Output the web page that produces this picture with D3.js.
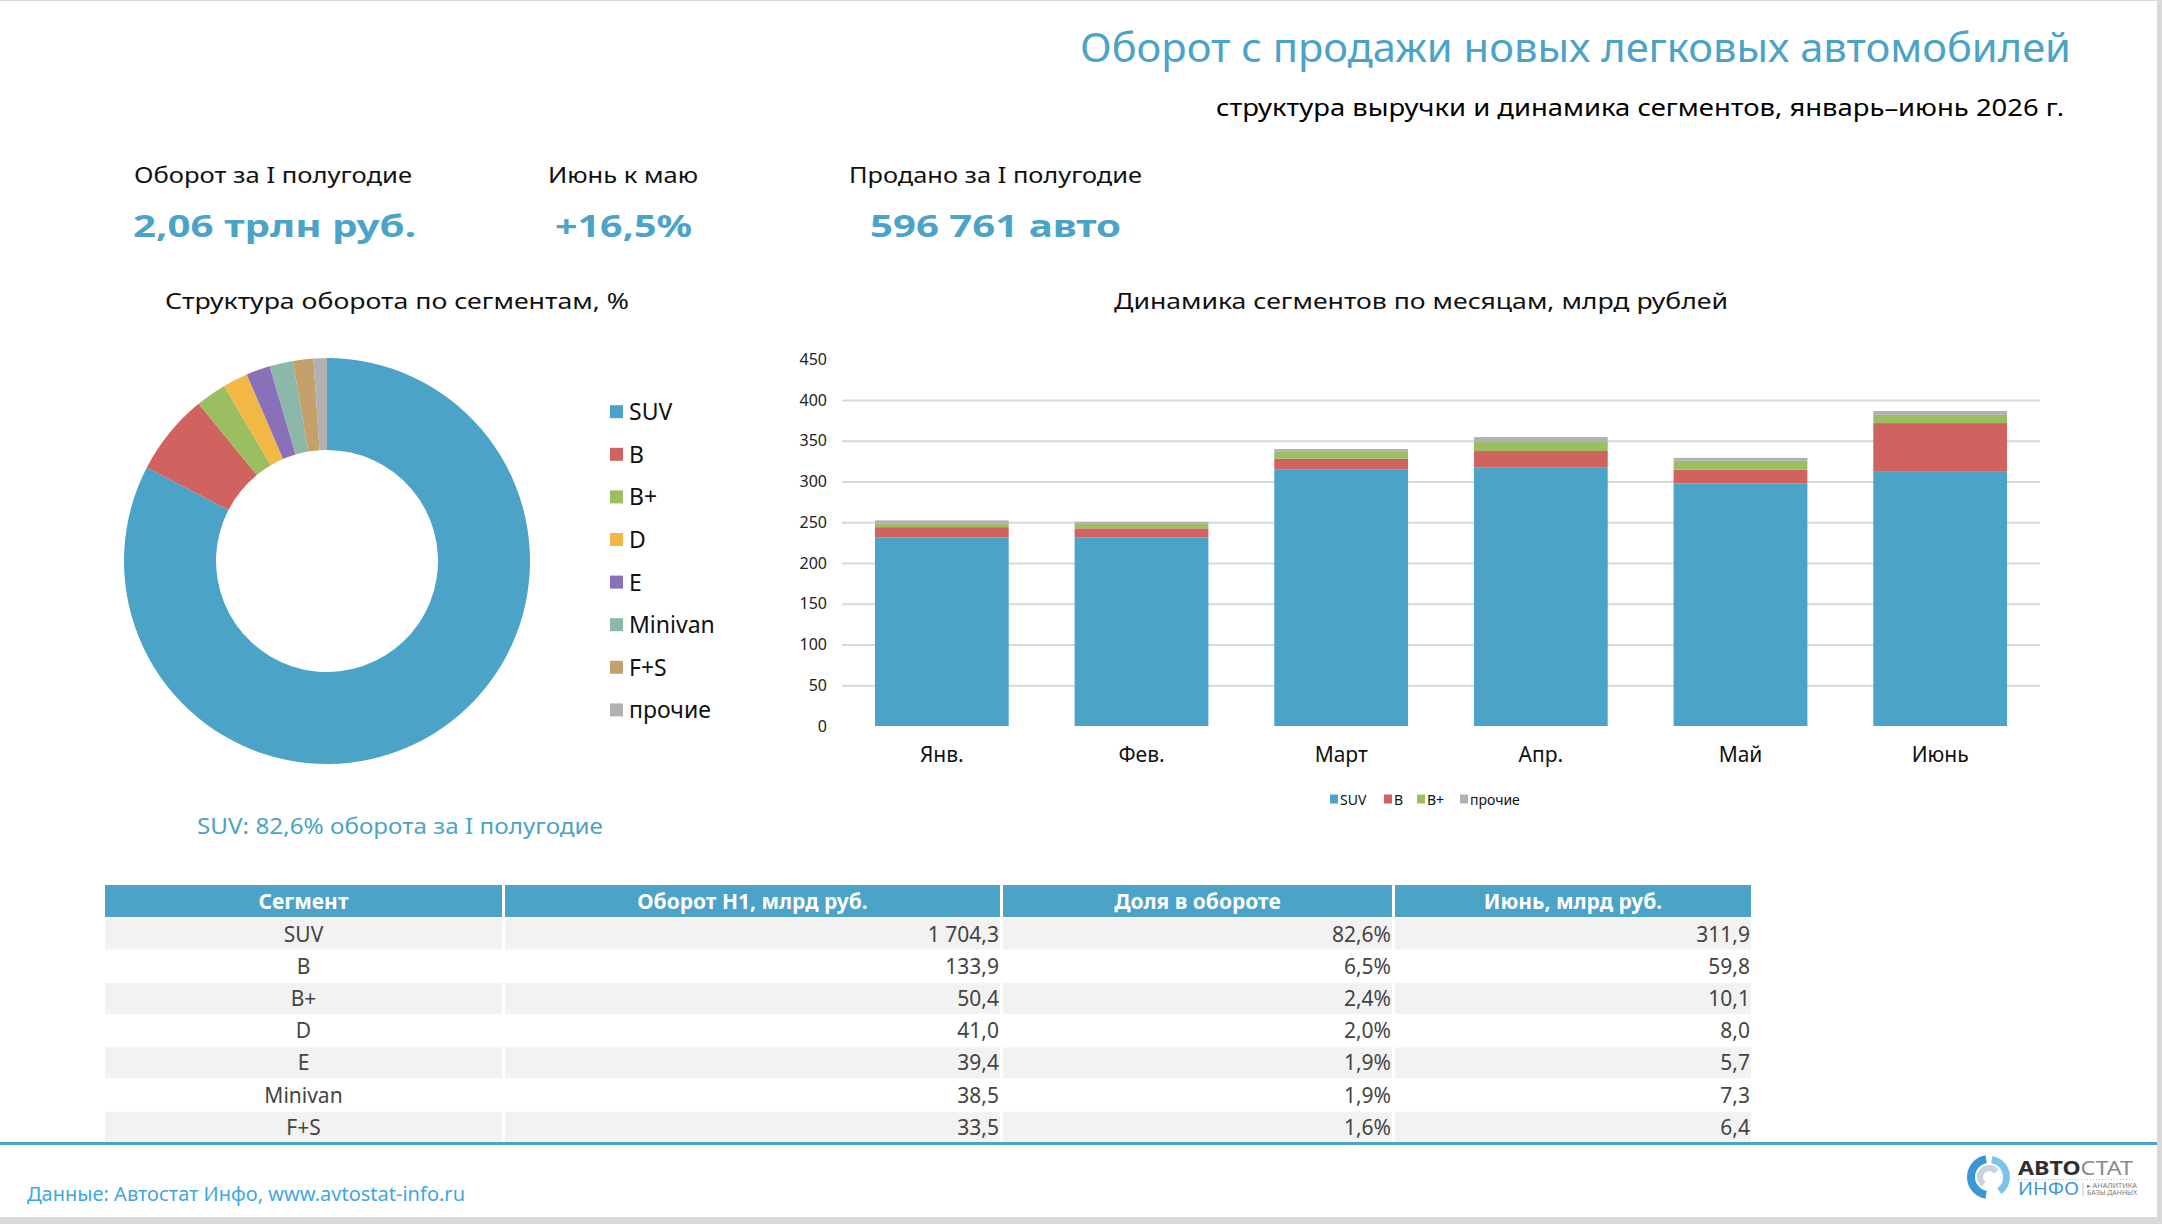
<!DOCTYPE html>
<html lang="ru">
<head>
<meta charset="utf-8">
<title>Оборот с продажи новых легковых автомобилей</title>
<script src="https://cdn.jsdelivr.net/npm/d3@7"></script>
<style>
  body { margin: 0; background: #d9d9d9; }
  svg { display: block; font-family: 'Noto Sans', 'DejaVu Sans', sans-serif; }
</style>
</head>
<body>
<svg width="2162" height="1224"></svg>
<script>
// ---- data ----
const segments = ['SUV', 'B', 'B+', 'D', 'E', 'Minivan', 'F+S', 'прочие'];
const h1Turnover = [1704.3, 133.9, 50.4, 41.0, 39.4, 38.5, 33.5, 22.0]; // прочие estimated
const h1Share = ['82,6%', '6,5%', '2,4%', '2,0%', '1,9%', '1,9%', '1,6%'];
const juneTurnover = [311.9, 59.8, 10.1, 8.0, 5.7, 7.3, 6.4];
const segColors = ['#4ba3c7', '#d0635f', '#9bbf60', '#f1b845', '#8a6fb9', '#8bb8a8', '#c4a06d', '#b1b1b1'];

const months = ['Янв.', 'Фев.', 'Март', 'Апр.', 'Май', 'Июнь'];
const suvMonthly = [231.5, 231.5, 314.5, 317.5, 297.4, 311.9];
const bMonthly = [12.5, 11.0, 13.5, 19.9, 17.2, 59.8];
const bPlusMonthly = [4.6, 5.6, 8.3, 11.0, 10.8, 10.1];
const otherMonthly = [3.7, 2.5, 3.5, 6.1, 3.6, 4.7];
const barKeys = ['SUV', 'B', 'B+', 'прочие'];
const barColors = ['#4ba3c7', '#d0635f', '#9bbf60', '#b1b1b1'];
const yTicks = [0, 50, 100, 150, 200, 250, 300, 350, 400, 450];

const kpiLabels = ['Оборот за I полугодие', 'Июнь к маю', 'Продано за I полугодие'];
const kpiValues = ['2,06 трлн руб.', '+16,5%', '596 761 авто'];
const tableHeader = ['Сегмент', 'Оборот H1, млрд руб.', 'Доля в обороте', 'Июнь, млрд руб.'];

const blue = '#4ba3c7';
const svg = d3.select('svg');

// slide
svg.append('rect').attr('x', 0).attr('y', 1).attr('width', 2157).attr('height', 1216).attr('fill', '#fff');

function fit(sel, w) {
  sel.attr('textLength', w).attr('lengthAdjust', 'spacingAndGlyphs');
  return sel;
}

function label(x, y, txt, size, color, w) {
  const t = svg.append('text')
    .attr('x', x).attr('y', y)
    .attr('font-size', size)
    .attr('fill', color)
    .text(txt);
  if (w) fit(t, w);
  return t;
}

// ---- header ----
label(1080, 62, 'Оборот с продажи новых легковых автомобилей', 40, blue, 991);
label(1216, 116, 'структура выручки и динамика сегментов, январь–июнь 2026 г.', 24, '#000', 848);

const kpiX = [134, 548, 849];
const kpiW = [278, 150, 293];
const kpiValX = [133, 555, 870];
const kpiValW = [283, 137, 251];
kpiLabels.forEach((d, i) => label(kpiX[i], 183, d, 22, '#111', kpiW[i]));
kpiValues.forEach((d, i) => {
  label(kpiValX[i], 237, d, 31, blue, kpiValW[i]).attr('font-weight', 'bold');
});

// ---- donut ----
label(165, 309, 'Структура оборота по сегментам, %', 22, '#111', 464);

const pie = d3.pie().sort(null).value(d => d);
const arc = d3.arc().innerRadius(111).outerRadius(203);
svg.append('g')
  .attr('transform', 'translate(327,561)')
  .selectAll('path')
  .data(pie(h1Turnover))
  .join('path')
  .attr('d', arc)
  .attr('fill', (d, i) => segColors[i]);

const legend = svg.append('g')
  .selectAll('g')
  .data(segments)
  .join('g')
  .attr('transform', (d, i) => `translate(610,${411.7 + i * 42.6})`);
legend.append('rect').attr('x', 0).attr('y', -6.5).attr('width', 13).attr('height', 13)
  .attr('fill', (d, i) => segColors[i]);
legend.append('text').attr('x', 19).attr('y', 8.5).attr('font-size', 23).attr('fill', '#111')
  .text(d => d);

label(197, 834, 'SUV: 82,6% оборота за I полугодие', 22, blue, 406);

// ---- stacked bars ----
label(1114, 309, 'Динамика сегментов по месяцам, млрд рублей', 22, '#111', 614);

const monthRows = months.map((m, i) => ({
  month: m,
  'SUV': suvMonthly[i],
  'B': bMonthly[i],
  'B+': bPlusMonthly[i],
  'прочие': otherMonthly[i],
}));

const x = d3.scaleBand().domain(months).range([842, 2040]).paddingInner(0.33).paddingOuter(0.165);
const y = d3.scaleLinear().domain([0, 450]).range([726, 359.25]);

const grid = svg.append('g')
  .attr('transform', 'translate(842,0)')
  .call(d3.axisLeft(y).tickValues(yTicks.filter(v => v > 0 && v < 450)).tickSize(-(2040 - 842)).tickFormat(''));
grid.select('.domain').remove();
grid.selectAll('line').attr('stroke', '#d9d9d9').attr('stroke-width', 2);

const yAxis = svg.append('g')
  .attr('transform', 'translate(827,0)')
  .call(d3.axisLeft(y).tickValues(yTicks).tickSize(0).tickPadding(0));
yAxis.select('.domain').remove();
yAxis.selectAll('text').attr('font-size', 16).attr('fill', '#222')
  .attr('font-family', "'Noto Sans', sans-serif");

const series = d3.stack().keys(barKeys)(monthRows);
svg.append('g')
  .selectAll('g')
  .data(series)
  .join('g')
  .attr('fill', (d, i) => barColors[i])
  .selectAll('rect')
  .data(d => d)
  .join('rect')
  .attr('x', d => x(d.data.month))
  .attr('y', d => y(d[1]))
  .attr('width', x.bandwidth())
  .attr('height', d => y(d[0]) - y(d[1]));

const xAxis = svg.append('g')
  .attr('transform', 'translate(0,726)')
  .call(d3.axisBottom(x).tickSize(0).tickPadding(21));
xAxis.select('.domain').remove();
xAxis.selectAll('text').attr('font-size', 21).attr('fill', '#111')
  .attr('font-family', "'Noto Sans', sans-serif");

const barLegX = [1330, 1384, 1417, 1460];
const barLeg = svg.append('g')
  .selectAll('g')
  .data(barKeys)
  .join('g')
  .attr('transform', (d, i) => `translate(${barLegX[i]},799)`);
barLeg.append('rect').attr('x', 0).attr('y', -4.5).attr('width', 8).attr('height', 9)
  .attr('fill', (d, i) => barColors[i]);
barLeg.append('text').attr('x', 10).attr('y', 5.5).attr('font-size', 14).attr('fill', '#111')
  .text(d => d);

// ---- table ----
const colX = [105, 505, 1003, 1395];
const colEnd = [502, 1000, 1392, 1751];
const head = svg.append('g');
tableHeader.forEach((h, i) => {
  head.append('rect').attr('x', colX[i]).attr('y', 885).attr('width', colEnd[i] - colX[i]).attr('height', 32)
    .attr('fill', blue);
  head.append('text').attr('x', (colX[i] + colEnd[i]) / 2).attr('y', 909)
    .attr('text-anchor', 'middle').attr('font-size', 21).attr('font-weight', 'bold').attr('fill', '#fff')
    .text(h);
});

const tableRows = segments.slice(0, 7).map((s, i) => [
  s,
  d3.format(',.1f')(h1Turnover[i]).replace(/,/g, ' ').replace('.', ','),
  h1Share[i],
  d3.format('.1f')(juneTurnover[i]).replace('.', ','),
]);

const rowG = svg.append('g')
  .selectAll('g')
  .data(tableRows)
  .join('g')
  .attr('transform', (d, i) => `translate(0,${918.5 + i * 32.2})`);

rowG.each(function (row, r) {
  const g = d3.select(this);
  row.forEach((cell, c) => {
    if (r % 2 === 0) {
      g.append('rect').attr('x', colX[c]).attr('y', 0).attr('width', colEnd[c] - colX[c]).attr('height', 31)
        .attr('fill', '#f2f2f2');
    }
    g.append('text')
      .attr('x', c === 0 ? (colX[c] + colEnd[c]) / 2 : colEnd[c] - 1)
      .attr('y', 23)
      .attr('text-anchor', c === 0 ? 'middle' : 'end')
      .attr('font-size', 21)
      .attr('fill', '#444')
      .text(cell);
  });
});

svg.append('rect').attr('x', 0).attr('y', 1142).attr('width', 2157).attr('height', 3).attr('fill', blue);

// ---- footer ----
label(27, 1201, 'Данные: Автостат Инфо, www.avtostat-info.ru', 19, '#3fa7e2', 438);

// logo
const logo = svg.append('g').attr('transform', 'translate(1989,1177)');
const ring = d3.arc();
logo.append('path').attr('d', ring({ innerRadius: 14, outerRadius: 22, startAngle: Math.PI * 1.05, endAngle: Math.PI * 1.95 }))
  .attr('fill', '#3a97d4');
logo.append('path').attr('d', ring({ innerRadius: 14, outerRadius: 21, startAngle: Math.PI * 0.05, endAngle: Math.PI * 0.8 }))
  .attr('fill', '#7cc4e8');
logo.append('path').attr('d', ring({ innerRadius: 6, outerRadius: 12, startAngle: Math.PI * 1.2, endAngle: Math.PI * 2.3 }))
  .attr('fill', '#c9d3d9');

const brand = svg.append('text').attr('x', 2018).attr('y', 1175).attr('font-size', 19);
brand.append('tspan').attr('font-weight', 'bold').attr('fill', '#2f2f2f').text('АВТО');
brand.append('tspan').attr('fill', '#8a8a8a').text('СТАТ');
fit(brand, 115);
svg.append('line').attr('x1', 2018).attr('x2', 2135).attr('y1', 1179.5).attr('y2', 1179.5)
  .attr('stroke', '#bbb').attr('stroke-dasharray', '1,2');
fit(label(2018, 1195, 'ИНФО', 18, '#3a9ad9'), 61);
svg.append('line').attr('x1', 2083).attr('x2', 2083).attr('y1', 1183).attr('y2', 1196).attr('stroke', '#bbb');
label(2087, 1188, '▸ АНАЛИТИКА', 6.5, '#777', 50);
label(2087, 1195, 'БАЗЫ ДАННЫХ', 6.5, '#777', 50);
</script>
</body>
</html>
